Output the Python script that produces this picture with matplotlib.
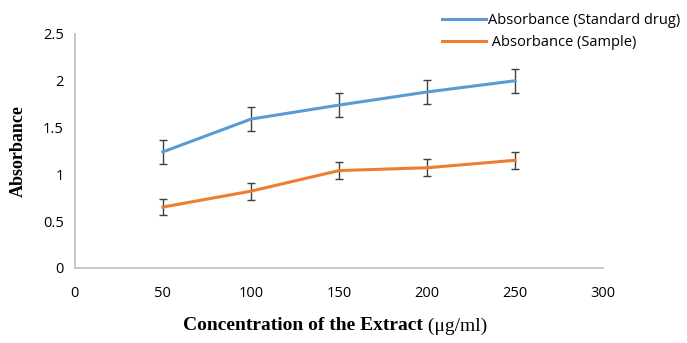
import matplotlib.pyplot as plt
from matplotlib.lines import Line2D

conc = [50, 100, 150, 200, 250]
std_drug = [1.24, 1.59, 1.74, 1.88, 2.00]
std_err = [0.13, 0.13, 0.13, 0.13, 0.13]
sample = [0.65, 0.82, 1.04, 1.07, 1.15]
sample_err = [0.09, 0.09, 0.09, 0.09, 0.09]
labels = ["Absorbance (Standard drug)", " Absorbance (Sample)"]
colors = ["#5B9BD5", "#ED7D31"]

tick_font = "Open Sans"
label_font = "Liberation Serif"

fig = plt.figure(figsize=(6.87, 3.43), dpi=100)
ax = fig.add_axes([0.109, 0.219, 0.769, 0.682])

ax.errorbar(conc, std_drug, yerr=std_err, color=colors[0], lw=2.2,
            ecolor="#404040", elinewidth=1, capsize=3, capthick=1)
ax.errorbar(conc, sample, yerr=sample_err, color=colors[1], lw=2.2,
            ecolor="#404040", elinewidth=1, capsize=3, capthick=1)

ax.set_xlim(0, 300)
ax.set_ylim(0, 2.5)
ax.set_xticks([0, 50, 100, 150, 200, 250, 300])
ax.set_yticks([0, 0.5, 1, 1.5, 2, 2.5])
ax.set_yticklabels(["0", "0.5", "1", "1.5", "2", "2.5"])
ax.tick_params(length=0, labelsize=10.5, pad=8)
ax.tick_params(axis="x", pad=13)
for lab in ax.get_xticklabels() + ax.get_yticklabels():
    lab.set_fontfamily(tick_font)

for s in ["top", "right"]:
    ax.spines[s].set_visible(False)
for s in ["left", "bottom"]:
    ax.spines[s].set_color("#BFBFBF")
    ax.spines[s].set_linewidth(1.2)

fig.text(0.027, 0.56, "Absorbance", rotation=90, ha="center", va="center",
         fontfamily=label_font, fontweight="bold", fontsize=13)

# x label: bold part plus regular unit
t1 = fig.text(0.266, 0.05, "Concentration of the Extract", ha="left", va="center",
              fontfamily=label_font, fontweight="bold", fontsize=14)
fig.canvas.draw()
bb = t1.get_window_extent()
x_end = bb.x1 / fig.bbox.width
fig.text(x_end, 0.05, " (\u03bcg/ml)", ha="left", va="center",
         fontfamily=label_font, fontsize=14)

handles = [Line2D([], [], color=c, lw=2.2) for c in colors]
fig.legend(handles, labels, loc="upper right", bbox_to_anchor=(1.01, 1.0),
           frameon=False, prop={"family": tick_font, "size": 10.5},
           handlelength=3.0, handletextpad=0.2, labelspacing=0.45)

fig.savefig("out.png", dpi=100)
